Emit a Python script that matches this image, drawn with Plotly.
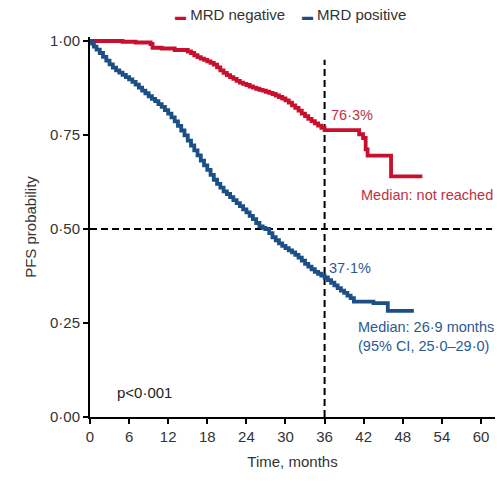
import plotly.graph_objects as go

# Kaplan-Meier progression-free survival estimates (months, probability)
neg_months = [0, 4.5, 5, 7, 9.3, 9.6, 11, 13, 15, 15.5, 16, 16.5, 17, 17.5, 18, 18.5, 19,
              19.5, 20, 20.5, 21, 21.5, 22, 22.5, 23, 23.5, 24, 24.5, 25, 25.5, 26, 26.5,
              27, 27.5, 28, 28.5, 29, 29.5, 30, 30.5, 31, 31.5, 32, 32.5, 33, 33.5, 34,
              34.5, 35, 35.5, 36, 40.8, 41.3, 41.9, 42.3, 42.6, 45.8, 46.2, 51]
neg_surv = [1.0, 1.0, 0.998, 0.996, 0.992, 0.982, 0.98, 0.976, 0.972, 0.968, 0.962, 0.957,
            0.953, 0.95, 0.946, 0.942, 0.937, 0.93, 0.922, 0.915, 0.909, 0.904, 0.899,
            0.894, 0.889, 0.886, 0.883, 0.879, 0.876, 0.873, 0.87, 0.868, 0.865, 0.862,
            0.859, 0.855, 0.851, 0.847, 0.842, 0.836, 0.829, 0.822, 0.815, 0.807, 0.8,
            0.793, 0.787, 0.781, 0.775, 0.769, 0.763, 0.763, 0.752, 0.742, 0.712, 0.695,
            0.695, 0.64, 0.64]

pos_months = [0, 0.3, 0.6, 1, 1.5, 2, 2.5, 3, 3.5, 4, 4.5, 5, 5.5, 6, 6.5, 7, 7.5, 8, 8.5,
              9, 9.5, 10, 10.5, 11, 11.5, 12, 12.5, 13, 13.5, 14, 14.5, 15, 15.5, 16, 16.5,
              17, 17.5, 18, 18.5, 19, 19.5, 20, 20.5, 21, 21.5, 22, 22.5, 23, 23.5, 24,
              24.5, 25, 25.5, 26, 26.5, 26.9, 27.5, 28, 28.5, 29, 29.5, 30, 30.5, 31, 31.5,
              32, 32.5, 33, 33.5, 34, 34.5, 35, 35.5, 36, 36.5, 37, 37.5, 38, 38.5, 39,
              39.5, 40, 40.5, 43.5, 45.7, 49.7]
pos_surv = [1.0, 0.993, 0.985, 0.977, 0.968, 0.958, 0.948, 0.938, 0.929, 0.922, 0.916,
            0.91, 0.904, 0.898, 0.891, 0.884, 0.876, 0.868, 0.861, 0.853, 0.846, 0.84,
            0.832, 0.825, 0.816, 0.807, 0.797, 0.786, 0.774, 0.762, 0.749, 0.735, 0.722,
            0.709, 0.696, 0.682, 0.669, 0.657, 0.644, 0.631, 0.62, 0.61, 0.6, 0.593,
            0.585, 0.577, 0.569, 0.561, 0.552, 0.544, 0.535, 0.526, 0.516, 0.507, 0.503,
            0.5, 0.489, 0.478, 0.47, 0.462, 0.455, 0.449, 0.443, 0.438, 0.431, 0.424,
            0.416, 0.407, 0.4, 0.393, 0.386, 0.381, 0.376, 0.371, 0.364, 0.357, 0.35,
            0.343, 0.336, 0.33, 0.323, 0.316, 0.307, 0.303, 0.282, 0.282]

x_ticks = [0, 6, 12, 18, 24, 30, 36, 42, 48, 54, 60]
y_ticks = [0, 0.25, 0.5, 0.75, 1.0]
y_ticktext = ["0·00", "0·25", "0·50", "0·75", "1·00"]

landmark_month = 36
median_line = 0.5

RED = "#c8102e"
BLUE = "#1d4f87"
RED_TXT = "#c0303f"
BLUE_TXT = "#2a5a93"
FONT = "Liberation Sans, Arial, sans-serif"


def pct_at(months, surv, t):
    return f"{surv[months.index(t)] * 100:.1f}%".replace(".", "·")


fig = go.Figure()
fig.add_trace(go.Scatter(x=neg_months, y=neg_surv, mode="lines", line_shape="hv",
                         line=dict(color=RED, width=3.8), name="MRD negative",
                         showlegend=False))
fig.add_trace(go.Scatter(x=pos_months, y=pos_surv, mode="lines", line_shape="hv",
                         line=dict(color=BLUE, width=3.8), name="MRD positive",
                         showlegend=False))

# reference lines: median survival and 36-month landmark
fig.add_shape(type="line", xref="x", yref="y", x0=0, x1=61.7, y0=median_line, y1=median_line,
              line=dict(color="black", width=2, dash="7px,4px"), layer="below")
fig.add_shape(type="line", xref="x", yref="y", x0=landmark_month, x1=landmark_month,
              y0=0, y1=0.95, line=dict(color="black", width=2, dash="7px,4px"), layer="below")

ann_font = dict(family=FONT, size=14.5)
fig.add_annotation(x=36.6, y=0.763, yshift=15, text=pct_at(neg_months, neg_surv, 36),
                   showarrow=False, xanchor="left", font=dict(color=RED_TXT, **ann_font))
fig.add_annotation(x=41.3, y=0.59, text="Median: not reached", showarrow=False,
                   xanchor="left", font=dict(color=RED_TXT, **ann_font))
fig.add_annotation(x=36.4, y=0.371, yshift=10, text=pct_at(pos_months, pos_surv, 36),
                   showarrow=False, xanchor="left", font=dict(color=BLUE_TXT, **ann_font))
fig.add_annotation(x=40.8, y=0.213, text="Median: 26·9 months<br>(95% CI, 25·0–29·0)",
                   showarrow=False, xanchor="left", align="left",
                   font=dict(color=BLUE_TXT, **ann_font))
fig.add_annotation(x=3.8, y=0.065, text="p&lt;0·001", showarrow=False, xanchor="left",
                   font=dict(color="#222", family=FONT, size=15))

# legend drawn as a single text line above the plot
swatch = "<span style='color:{c};font-size:11px'><b>▬</b></span>"
fig.add_annotation(xref="paper", yref="paper", x=0.494, y=1.058, showarrow=False,
                   xanchor="center", yanchor="middle",
                   text=(swatch.format(c=RED) + "&nbsp;MRD negative&nbsp;&nbsp;&nbsp;&nbsp;"
                         + swatch.format(c=BLUE) + "&nbsp;MRD positive"),
                   font=dict(family=FONT, size=15, color="#333"))

fig.update_layout(
    width=497, height=484,
    margin=dict(l=90, r=2, t=37, b=67),
    paper_bgcolor="white", plot_bgcolor="white",
    xaxis=dict(range=[0, 62.15], tickvals=x_ticks, showgrid=False, zeroline=False,
               showline=True, linecolor="black", linewidth=2, ticks="outside",
               ticklen=5, tickwidth=1.5, tickcolor="black",
               tickfont=dict(family=FONT, size=15, color="#333"),
               title=dict(text="Time, months", font=dict(family=FONT, size=15, color="#333"),
                          standoff=12)),
    yaxis=dict(range=[0, 1.0106], tickvals=y_ticks, ticktext=y_ticktext, showgrid=False,
               zeroline=False, showline=True, linecolor="black", linewidth=2,
               ticks="outside", ticklen=5, tickwidth=1.5, tickcolor="black",
               tickfont=dict(family=FONT, size=15, color="#333"),
               title=dict(text="PFS probability", font=dict(family=FONT, size=15, color="#333"),
                          standoff=10)),
)

fig.write_html("out.html")
